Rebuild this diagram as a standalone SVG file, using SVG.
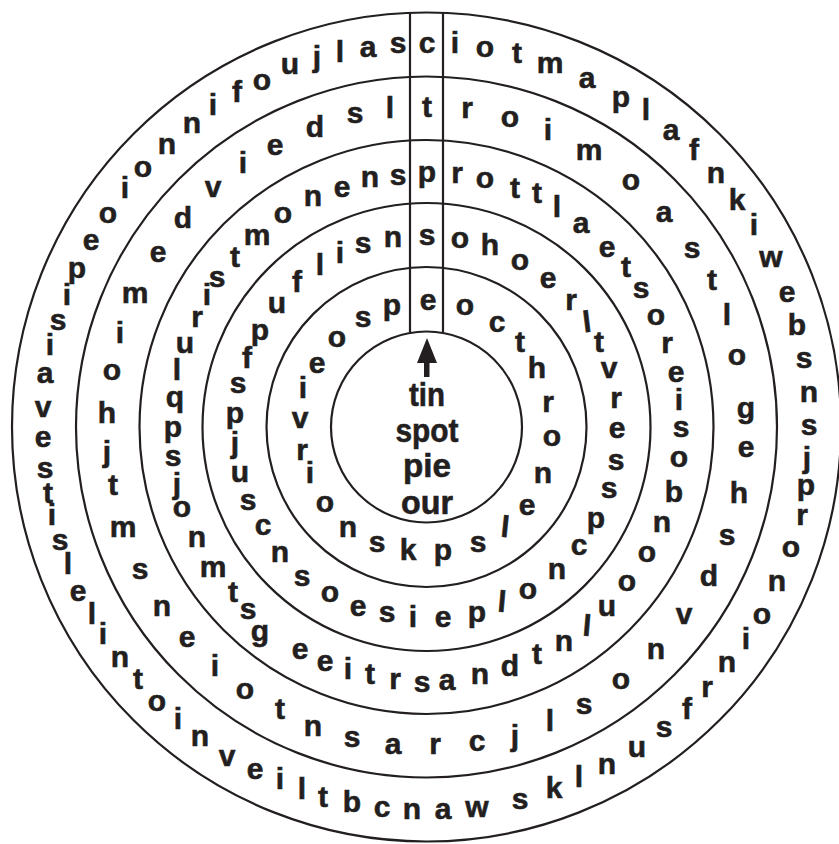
<svg xmlns="http://www.w3.org/2000/svg" width="839" height="844" viewBox="0 0 839 844">
<style>
.c{fill:none;stroke:#231f20;stroke-width:2.2}
text{font-family:"Liberation Sans",Arial,sans-serif;font-weight:bold;fill:#231f20;stroke:#231f20;stroke-width:0.6;text-anchor:middle}
.r{font-size:30px}
.m{font-size:33px}
</style>
<rect width="839" height="844" fill="#fff"/>
<g id="rings">
<circle class="c" cx="426.5" cy="427" r="414.5"/>
<circle class="c" cx="426.5" cy="427" r="350.5"/>
<circle class="c" cx="426.5" cy="427" r="287"/>
<circle class="c" cx="426.5" cy="427" r="224"/>
<circle class="c" cx="426.5" cy="427" r="160"/>
<circle class="c" cx="426.5" cy="427" r="95.5"/>
<line class="c" x1="410" y1="13" x2="410" y2="332"/>
<line class="c" x1="443" y1="13" x2="443" y2="332"/>
</g>
<g id="ring1" class="r">
<text x="427" y="53">c</text><text x="455" y="53">i</text><text x="485" y="57">o</text><text x="517" y="63">t</text><text x="550" y="73">m</text><text x="587" y="88">a</text><text x="621" y="107">p</text><text x="646" y="120">l</text><text x="671" y="140">a</text><text x="694" y="160">f</text><text x="716" y="183">n</text><text x="737" y="210">k</text><text x="754" y="235">i</text><text x="771" y="267">w</text><text x="787" y="302">e</text><text x="797" y="335">b</text><text x="804" y="368">s</text><text x="809" y="402">n</text><text x="809" y="435">s</text><text x="807" y="468">j</text><text x="806" y="495">p</text><text x="802" y="525">r</text><text x="791" y="557">o</text><text x="777" y="591">n</text><text x="762" y="624">o</text><text x="746" y="649">i</text><text x="727" y="672">n</text><text x="707" y="697">r</text><text x="687" y="719">f</text><text x="664" y="737">s</text><text x="637" y="757">u</text><text x="607" y="774">n</text><text x="579" y="787">l</text><text x="554" y="798">k</text><text x="520" y="809">s</text><text x="477" y="817">w</text><text x="443" y="819">a</text><text x="412" y="819">n</text><text x="382" y="817">c</text><text x="352" y="812">b</text><text x="323" y="807">t</text><text x="302" y="799">l</text><text x="280" y="789">i</text><text x="255" y="779">e</text><text x="227" y="766">v</text><text x="200" y="746">n</text><text x="178" y="729">i</text><text x="157" y="711">o</text><text x="138" y="689">t</text><text x="120" y="667">n</text><text x="103" y="644">i</text><text x="92" y="624">l</text><text x="78" y="601">e</text><text x="68" y="574">l</text><text x="60" y="550">s</text><text x="52" y="525">i</text><text x="48" y="503">t</text><text x="45" y="478">s</text><text x="43" y="447">e</text><text x="43" y="417">v</text><text x="45" y="383">a</text><text x="50" y="355">i</text><text x="58" y="330">s</text><text x="67" y="305">i</text><text x="77" y="278">p</text><text x="91" y="250">e</text><text x="108" y="223">o</text><text x="125" y="198">i</text><text x="143" y="177">o</text><text x="167" y="154">n</text><text x="192" y="133">n</text><text x="213" y="115">i</text><text x="237" y="102">f</text><text x="262" y="90">o</text><text x="290" y="74">u</text><text x="317" y="67">j</text><text x="340" y="62">l</text><text x="368" y="57">a</text><text x="398" y="53">s</text>
</g>
<g id="ring2" class="r">
<text x="427" y="117">t</text><text x="467" y="118">r</text><text x="510" y="127">o</text><text x="548" y="140">i</text><text x="589" y="160">m</text><text x="631" y="190">o</text><text x="664" y="222">a</text><text x="692" y="258">s</text><text x="712" y="290">t</text><text x="727" y="325">l</text><text x="737" y="365">o</text><text x="746" y="418">g</text><text x="746" y="457">e</text><text x="739" y="503">h</text><text x="727" y="545">s</text><text x="709" y="586">d</text><text x="684" y="624">v</text><text x="656" y="659">n</text><text x="621" y="689">o</text><text x="584" y="714">s</text><text x="550" y="731">l</text><text x="515" y="746">j</text><text x="477" y="751">c</text><text x="435" y="754">r</text><text x="393" y="754">a</text><text x="352" y="747">s</text><text x="313" y="736">n</text><text x="280" y="719">t</text><text x="245" y="699">o</text><text x="215" y="676">i</text><text x="187" y="647">e</text><text x="162" y="616">n</text><text x="140" y="579">s</text><text x="123" y="537">m</text><text x="113" y="495">t</text><text x="107" y="462">j</text><text x="107" y="423">h</text><text x="112" y="380">o</text><text x="120" y="343">i</text><text x="135" y="303">m</text><text x="158" y="262">e</text><text x="183" y="228">d</text><text x="213" y="197">v</text><text x="243" y="173">i</text><text x="275" y="155">e</text><text x="315" y="137">d</text><text x="355" y="123">s</text><text x="390" y="118">l</text>
</g>
<g id="ring3" class="r">
<text x="427" y="182">p</text><text x="457" y="183">r</text><text x="485" y="188">o</text><text x="515" y="198">t</text><text x="537" y="203">t</text><text x="557" y="217">l</text><text x="581" y="233">a</text><text x="607" y="257">e</text><text x="626" y="277">t</text><text x="641" y="298">s</text><text x="656" y="325">o</text><text x="667" y="353">r</text><text x="676" y="382">e</text><text x="679" y="410">i</text><text x="681" y="437">s</text><text x="679" y="467">o</text><text x="674" y="502">b</text><text x="662" y="532">n</text><text x="647" y="562">o</text><text x="627" y="591">o</text><text x="607" y="616">u</text><text x="587" y="636" transform="rotate(5 587 626)">l</text><text x="564" y="651">n</text><text x="537" y="664">t</text><text x="510" y="676">d</text><text x="480" y="684">n</text><text x="447" y="690">a</text><text x="422" y="692">s</text><text x="395" y="689">r</text><text x="370" y="684">t</text><text x="348" y="679">i</text><text x="325" y="671">e</text><text x="300" y="659">e</text><text x="260" y="641">g</text><text x="248" y="619">s</text><text x="233" y="602">t</text><text x="213" y="577">m</text><text x="197" y="547">n</text><text x="182" y="517">o</text><text x="177" y="494">j</text><text x="173" y="466">s</text><text x="173" y="437">p</text><text x="175" y="407">q</text><text x="177" y="380">l</text><text x="185" y="353">u</text><text x="197" y="327">r</text><text x="207" y="305">i</text><text x="217" y="287">s</text><text x="235" y="267">t</text><text x="257" y="245">m</text><text x="283" y="223">o</text><text x="313" y="206">n</text><text x="342" y="197">e</text><text x="370" y="187">n</text><text x="398" y="185">s</text>
</g>
<g id="ring4" class="r">
<text x="427" y="245">s</text><text x="460" y="248">o</text><text x="490" y="255">h</text><text x="520" y="270">o</text><text x="548" y="288">e</text><text x="571" y="310">r</text><text x="587" y="332" transform="rotate(-7 587 322)">l</text><text x="599" y="352">t</text><text x="609" y="378">v</text><text x="616" y="408">r</text><text x="617" y="438">e</text><text x="616" y="470">s</text><text x="609" y="498">s</text><text x="596" y="528">p</text><text x="579" y="555">c</text><text x="557" y="579">n</text><text x="528" y="599">o</text><text x="502" y="612" transform="rotate(5 502 601)">l</text><text x="477" y="622">p</text><text x="443" y="627">e</text><text x="413" y="627">i</text><text x="387" y="622">s</text><text x="358" y="616">e</text><text x="330" y="602">o</text><text x="302" y="586">s</text><text x="280" y="562">n</text><text x="263" y="535">c</text><text x="248" y="510">s</text><text x="240" y="482">u</text><text x="235" y="453">j</text><text x="235" y="423">p</text><text x="238" y="393">s</text><text x="247" y="368">f</text><text x="260" y="340">p</text><text x="277" y="313">u</text><text x="297" y="292">f</text><text x="320" y="275">l</text><text x="340" y="263">i</text><text x="363" y="253">s</text><text x="393" y="247">n</text>
</g>
<g id="ring5" class="r">
<text x="428" y="310">e</text><text x="465" y="315">o</text><text x="497" y="332">c</text><text x="520" y="352">t</text><text x="537" y="378">h</text><text x="548" y="412">r</text><text x="552" y="446">o</text><text x="543" y="483">n</text><text x="527" y="515">e</text><text x="505" y="537" transform="rotate(6 505 528)">l</text><text x="478" y="552">s</text><text x="443" y="560">p</text><text x="408" y="560">k</text><text x="377" y="552">s</text><text x="348" y="537">n</text><text x="325" y="512">o</text><text x="310" y="483">i</text><text x="302" y="460">r</text><text x="300" y="428">v</text><text x="303" y="398">i</text><text x="317" y="373">e</text><text x="337" y="347">o</text><text x="363" y="327">s</text><text x="392" y="315">p</text>
</g>
<g id="center">
<polygon points="427,338 417,363 437,363" fill="#231f20"/>
<rect x="424" y="362" width="5.5" height="15" fill="#231f20"/>
<text class="m" x="427" y="406" textLength="36" lengthAdjust="spacingAndGlyphs">tin</text>
<text class="m" x="427" y="442" textLength="63" lengthAdjust="spacingAndGlyphs">spot</text>
<text class="m" x="427" y="477" textLength="48" lengthAdjust="spacingAndGlyphs">pie</text>
<text class="m" x="427" y="514" textLength="52" lengthAdjust="spacingAndGlyphs">our</text>
</g>
</svg>
